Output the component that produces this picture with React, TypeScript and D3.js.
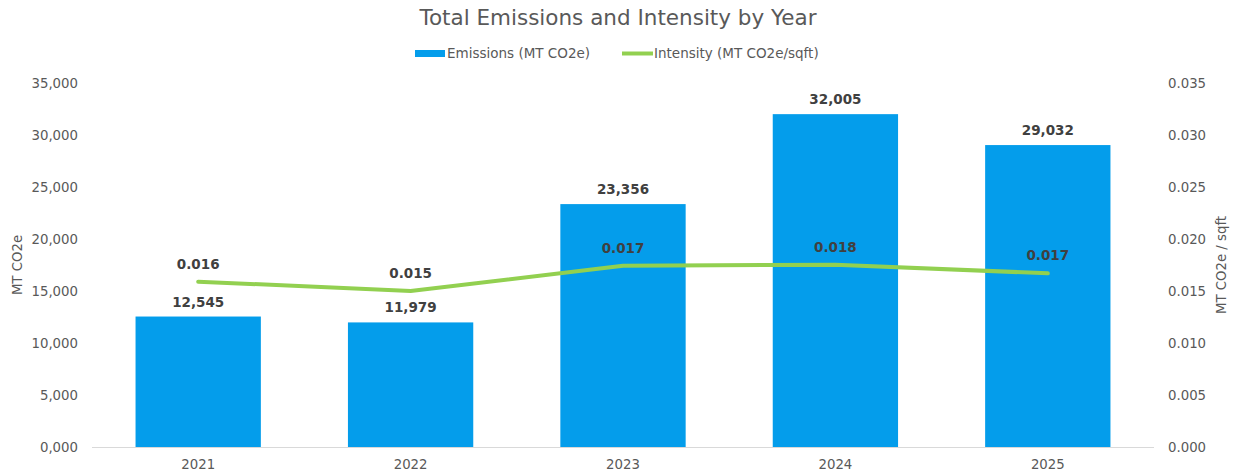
import React, { useEffect, useRef } from "react";
import * as d3 from "d3";

const years = ["2021", "2022", "2023", "2024", "2025"];
const emissions = [12545, 11979, 23356, 32005, 29032];
const intensity = [0.0159, 0.015, 0.01743, 0.01752, 0.0167];
const leftTicks = [0, 5000, 10000, 15000, 20000, 25000, 30000, 35000];
const rightTicks = [0, 0.005, 0.01, 0.015, 0.02, 0.025, 0.03, 0.035];

const App: React.FC = () => {
  const svgRef = useRef<SVGSVGElement | null>(null);

  useEffect(() => {
    if (!svgRef.current) return;
    const width = 1234;
    const height = 474;
    const font = "DejaVu Sans, Verdana, sans-serif";
    const textColor = "#595959";
    const labelColor = "#404040";
    const barColor = "#049DEB";
    const lineColor = "#92D050";

    const svg = d3.select(svgRef.current);
    svg.selectAll("*").remove();
    svg.attr("width", width).attr("height", height).style("font-family", font);

    const left = 92;
    const right = 1154;
    const top = 83;
    const bottom = 447;

    const x = d3.scaleBand<string>().domain(years).range([left, right]).paddingInner(0.41).paddingOuter(0.205);
    const yL = d3.scaleLinear().domain([0, 35000]).range([bottom, top]);
    const yR = d3.scaleLinear().domain([0, 0.035]).range([bottom, top]);

    // title
    svg.append("text")
      .attr("x", 618).attr("y", 25)
      .attr("text-anchor", "middle")
      .attr("font-size", 21.5)
      .attr("fill", textColor)
      .text("Total Emissions and Intensity by Year");

    // legend
    const lg = svg.append("g");
    lg.append("rect").attr("x", 415).attr("y", 50).attr("width", 30).attr("height", 7).attr("fill", barColor);
    lg.append("text").attr("x", 447).attr("y", 58).attr("font-size", 13.5).attr("fill", textColor).text("Emissions (MT CO2e)");
    lg.append("line").attr("x1", 622).attr("x2", 653).attr("y1", 53.5).attr("y2", 53.5)
      .attr("stroke", lineColor).attr("stroke-width", 4);
    lg.append("text").attr("x", 654).attr("y", 58).attr("font-size", 13.5).attr("fill", textColor).text("Intensity (MT CO2e/sqft)");

    // left axis
    const fmtL = (v: number) => (v === 0 ? "0,000" : d3.format(",")(v));
    svg.append("g").selectAll("text").data(leftTicks).enter().append("text")
      .attr("x", 78).attr("y", (d) => yL(d)).attr("dy", "0.35em")
      .attr("text-anchor", "end").attr("font-size", 13.3).attr("fill", textColor)
      .text((d) => fmtL(d));

    // right axis
    svg.append("g").selectAll("text").data(rightTicks).enter().append("text")
      .attr("x", 1168).attr("y", (d) => yR(d)).attr("dy", "0.35em")
      .attr("text-anchor", "start").attr("font-size", 13.3).attr("fill", textColor)
      .text((d) => d3.format(".3f")(d));

    // axis titles
    svg.append("text")
      .attr("transform", `translate(22, ${(top + bottom) / 2}) rotate(-90)`)
      .attr("text-anchor", "middle").attr("font-size", 13.3).attr("fill", textColor)
      .text("MT CO2e");
    svg.append("text")
      .attr("transform", `translate(1226, ${(top + bottom) / 2}) rotate(-90)`)
      .attr("text-anchor", "middle").attr("font-size", 13.3).attr("fill", textColor)
      .text("MT CO2e / sqft");

    // bars
    svg.append("g").selectAll("rect").data(emissions).enter().append("rect")
      .attr("x", (_, i) => x(years[i])!)
      .attr("y", (d) => yL(d))
      .attr("width", x.bandwidth())
      .attr("height", (d) => bottom - yL(d))
      .attr("fill", barColor);

    // baseline
    svg.append("line").attr("x1", left).attr("x2", right).attr("y1", bottom + 0.5).attr("y2", bottom + 0.5)
      .attr("stroke", "#d9d9d9").attr("stroke-width", 1);

    // x labels
    svg.append("g").selectAll("text").data(years).enter().append("text")
      .attr("x", (d) => x(d)! + x.bandwidth() / 2).attr("y", 469)
      .attr("text-anchor", "middle").attr("font-size", 13.3).attr("fill", textColor)
      .text((d) => d);

    // bar labels
    svg.append("g").selectAll("text").data(emissions).enter().append("text")
      .attr("x", (_, i) => x(years[i])! + x.bandwidth() / 2)
      .attr("y", (d) => yL(d) - 10)
      .attr("text-anchor", "middle").attr("font-size", 13.5).attr("font-weight", "bold").attr("fill", labelColor)
      .text((d) => d3.format(",")(d));

    // line
    const line = d3.line<number>()
      .x((_, i) => x(years[i])! + x.bandwidth() / 2)
      .y((d) => yR(d));
    svg.append("path").attr("d", line(intensity) || "")
      .attr("fill", "none").attr("stroke", lineColor).attr("stroke-width", 4)
      .attr("stroke-linejoin", "round").attr("stroke-linecap", "round");

    // line labels
    svg.append("g").selectAll("text").data(intensity).enter().append("text")
      .attr("x", (_, i) => x(years[i])! + x.bandwidth() / 2)
      .attr("y", (d) => yR(d) - 13)
      .attr("text-anchor", "middle").attr("font-size", 13.5).attr("font-weight", "bold").attr("fill", labelColor)
      .text((d) => d3.format(".3f")(d));
  }, []);

  return (
    <svg ref={svgRef} style={{ position: "absolute", left: 0, top: 0, background: "#fff" }}></svg>
  );
};

export default App;
